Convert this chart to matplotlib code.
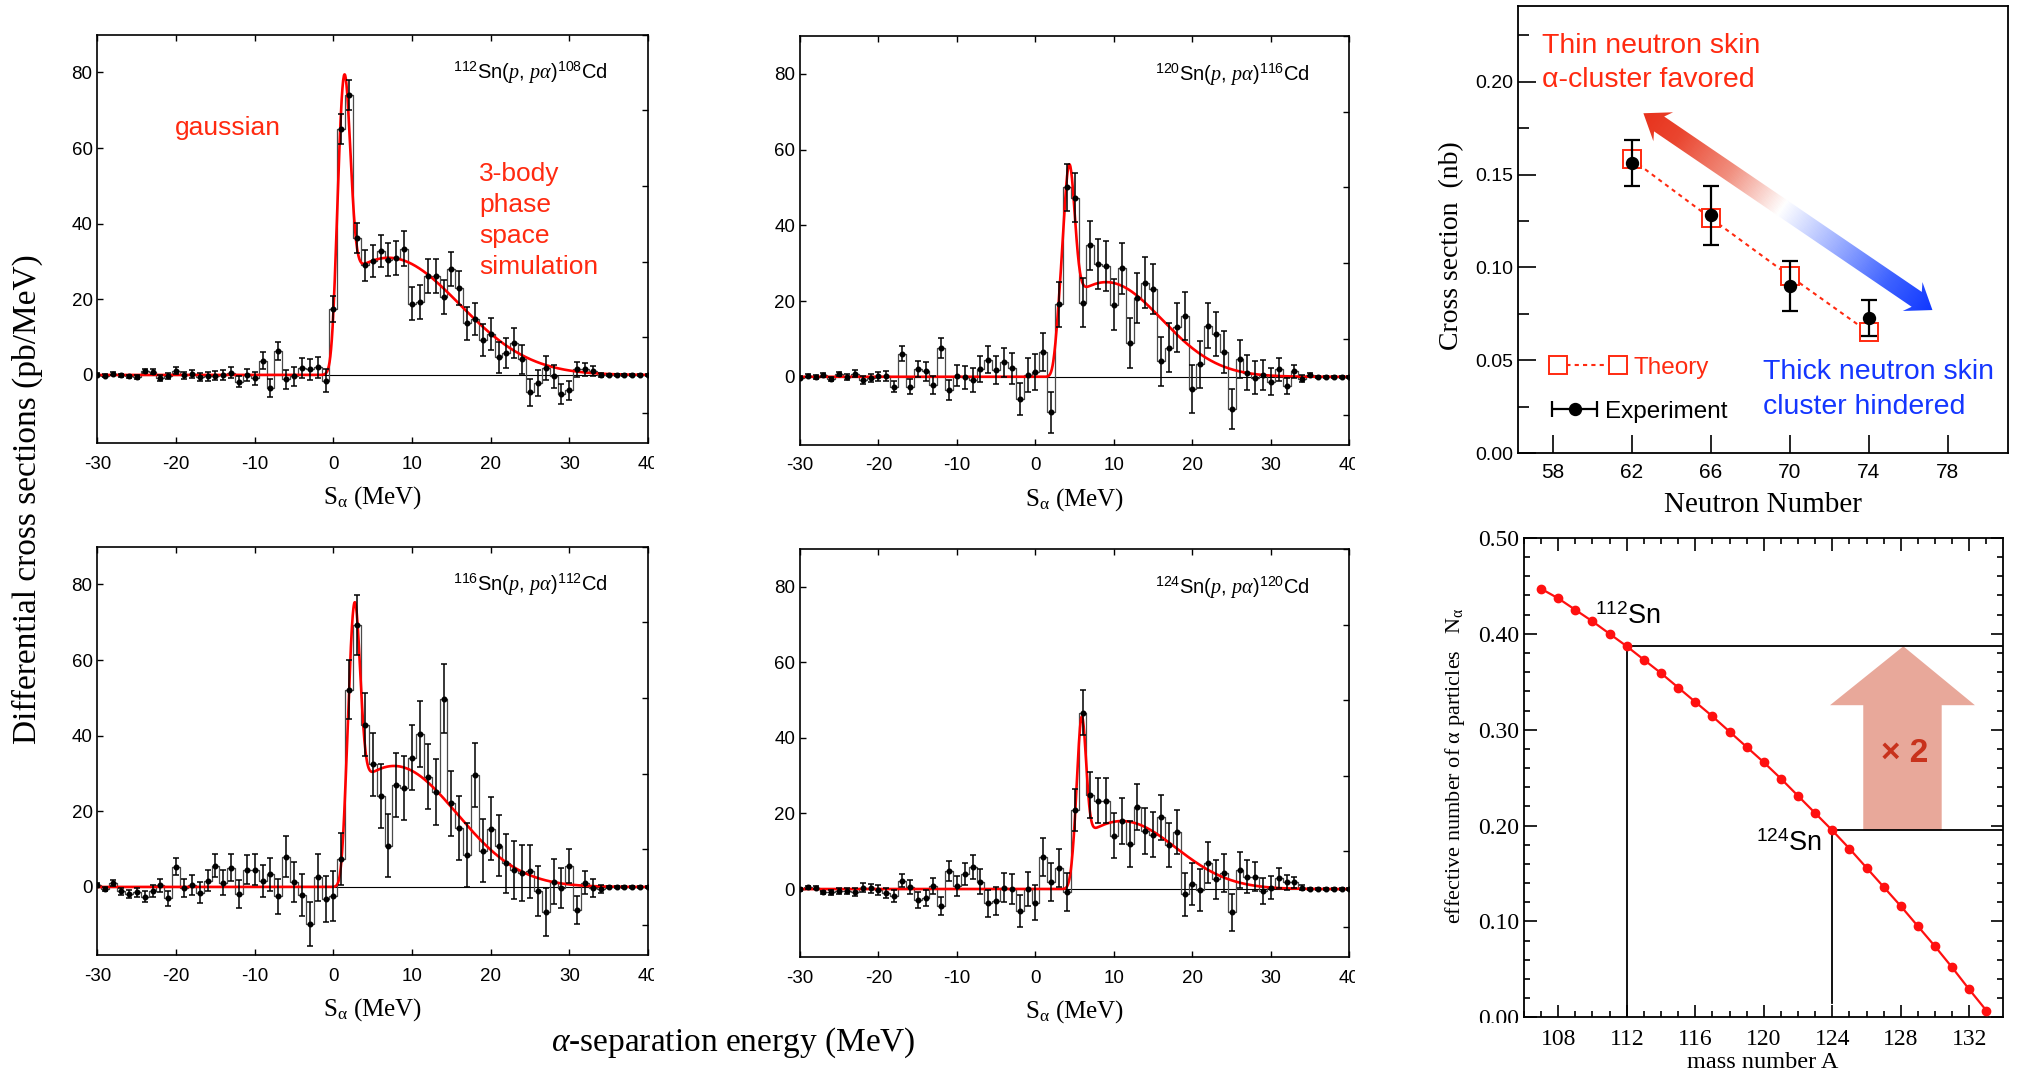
import math
import numpy as np
import matplotlib
matplotlib.use("Agg")
import matplotlib.pyplot as plt
from matplotlib.patches import Polygon
from matplotlib.colors import LinearSegmentedColormap
from matplotlib.ticker import MultipleLocator, FormatStrFormatter
from matplotlib.transforms import Bbox, TransformedBbox

plt.rcParams['font.family'] = ['Liberation Sans', 'DejaVu Sans']
plt.rcParams['mathtext.fontset'] = 'custom'
plt.rcParams['mathtext.rm'] = 'Liberation Sans'
plt.rcParams['mathtext.it'] = 'Liberation Serif:italic'
plt.rcParams['mathtext.bf'] = 'Liberation Sans:bold'
plt.rcParams['axes.unicode_minus'] = False

SERIF = ['Liberation Serif', 'DejaVu Serif']
RED_TXT = '#ff2a10'
BLUE_TXT = '#1436ff'

# ---------------- spectra: S_alpha bins (MeV) ----------------
s_alpha = list(range(-30, 41))

yield_112 = [0, -0.2, 0.3, -0.1, -0.4, -0.6, 1.0, 0.9, -0.7, -0.3,
             1.1, -0.1, 0.2, -0.6, -0.4, -0.2, -0.1, 0.6, -1.8, 0,
             -0.9, 3.8, -3.4, 6.3, -1.1, -0.4, 1.8, 1.5, 2.0, -1.5,
             17.5, 65.1, 74.0, 36.2, 29.0, 30.2, 32.8, 30.5, 30.9, 33.4,
             18.9, 19.2, 26.2, 26.2, 20.5, 27.9, 23.0, 13.7, 14.8, 9.3,
             10.8, 4.7, 5.9, 8.5, 4.1, -4.6, -2.2, 1.9, -0.4, -5.0,
             -4.1, 1.5, 1.5, 1.1, 0, 0, 0, 0, 0, 0,
             0]
err_112 = [0.4, 0.4, 0.4, 0.4, 0.5, 0.5, 0.6, 0.6, 0.8, 0.8,
           0.9, 1.0, 1.0, 1.1, 1.2, 1.2, 1.3, 1.4, 1.5, 1.6,
           1.8, 2.2, 2.3, 2.4, 2.5, 2.5, 2.6, 2.7, 2.8, 3.0,
           3.5, 4.0, 4.0, 4.0, 4.1, 4.2, 4.3, 4.4, 4.5, 4.6,
           4.4, 4.5, 4.6, 4.6, 4.5, 4.5, 4.5, 4.4, 4.3, 4.2,
           4.2, 4.1, 4.0, 3.9, 3.8, 3.6, 3.4, 3.2, 3.0, 2.7,
           2.5, 2.0, 1.7, 1.4, 0.5, 0.2, 0.2, 0.2, 0.2, 0.2,
           0.2]

yield_120 = [-0.2, 0.3, -0.1, 0.4, -0.6, 0.7, 0, 0.8, -0.8, -0.3,
             0.1, 0.2, -2.6, 6.1, -2.6, 2.1, 1.4, -2.1, 7.6, -3.5,
             0.3, -0.1, -0.9, 2.0, 4.5, 1.7, 3.8, 2.2, -5.9, 0.5,
             1.2, 6.5, -9.4, 19.1, 50.1, 47.3, 19.6, 34.7, 29.8, 29.2,
             19.0, 28.6, 8.9, 20.8, 24.9, 23.3, 4.1, 7.7, 13.1, 16.0,
             -3.2, 3.3, 13.5, 11.4, 6.6, -8.5, 4.8, 1.1, -0.2, 0.4,
             -1.3, 2.0, -2.4, 1.4, -0.5, 0.6, 0, 0, 0, 0,
             0]
err_120 = [0.4, 0.4, 0.5, 0.5, 0.6, 0.6, 0.8, 0.9, 1.0, 1.1,
           1.2, 1.4, 1.5, 2.0, 2.0, 2.2, 2.4, 2.4, 2.7, 2.7,
           2.8, 3.0, 3.2, 3.4, 3.6, 3.7, 3.8, 4.0, 4.2, 4.5,
           4.8, 5.0, 5.4, 5.9, 6.2, 6.5, 6.5, 6.5, 6.6, 6.6,
           6.7, 6.7, 6.7, 6.7, 6.7, 6.6, 6.5, 6.5, 6.5, 6.4,
           6.3, 6.2, 6.0, 5.8, 5.6, 5.3, 5.0, 4.6, 4.3, 4.0,
           3.6, 3.0, 2.2, 1.7, 1.0, 0.4, 0.2, 0.2, 0.2, 0.2,
           0.2]

yield_116 = [0.5, -0.5, 1.1, -1.2, -1.9, -1.4, -2.6, -1.0, 0.4, -3.0,
             5.4, -0.3, 0.6, -1.5, 1.7, 5.6, 1.1, 5.1, -1.9, 4.6,
             4.6, 1.6, 3.3, -2.5, 8.0, 1.3, -2.1, -9.8, 2.6, -3.2,
             -2.4, 7.4, 52.2, 69.3, 42.9, 32.4, 24.1, 10.9, 27.0, 26.2,
             34.2, 40.4, 29.2, 25.2, 49.8, 22.1, 15.5, 8.5, 29.6, 9.6,
             15.4, 10.9, 6.3, 4.5, 3.8, 4.1, -1.1, -6.7, 1.4, -0.3,
             5.5, -6.1, 1.1, -0.2, -0.5, 0, 0, 0, 0, 0,
             0]
err_116 = [0.5, 0.6, 0.8, 1.0, 1.1, 1.2, 1.4, 1.6, 1.8, 2.0,
           2.3, 2.4, 2.6, 2.8, 2.9, 3.0, 3.3, 3.5, 3.7, 3.8,
           4.0, 4.2, 4.4, 4.6, 5.4, 5.4, 5.6, 5.8, 6.2, 6.2,
           6.6, 7.0, 7.7, 8.0, 8.3, 8.3, 8.4, 8.4, 8.5, 8.5,
           8.6, 8.7, 8.6, 8.7, 9.2, 8.6, 8.5, 8.5, 8.5, 8.4,
           8.4, 8.1, 7.8, 7.6, 7.4, 7.0, 6.7, 6.3, 5.9, 5.3,
           4.5, 3.7, 3.0, 2.4, 1.0, 0.3, 0.3, 0.3, 0.3, 0.3,
           0.3]

yield_124 = [0, 0.5, 0.4, -0.9, -0.9, -0.5, -0.5, -0.8, 0.4, 0.2,
             -0.3, -1.0, -1.8, 2.2, 0.6, -2.9, -2.4, 0.8, -4.4, 4.8,
             0.8, 3.9, 5.9, 1.9, -3.8, -3.1, 0.4, 0, -5.8, 0,
             -3.6, 8.4, 1.9, 5.5, -0.7, 21.0, 46.7, 24.9, 23.4, 23.4,
             14.1, 18.0, 12.0, 21.8, 15.4, 14.4, 19.0, 11.6, 15.1, -1.4,
             1.4, -0.2, 7.0, 2.6, 4.3, -6.2, 5.0, 3.3, 3.3, -0.5,
             0.4, 3.0, 1.8, 1.8, 0.4, 0, 0, 0, 0, 0,
             0]
err_124 = [0.4, 0.4, 0.4, 0.5, 0.6, 0.7, 0.8, 1.0, 1.1, 1.2,
           1.3, 1.4, 1.5, 1.7, 1.9, 2.0, 2.1, 2.2, 2.4, 2.6,
           2.7, 2.9, 3.2, 3.3, 3.5, 3.7, 3.9, 4.0, 4.3, 4.5,
           4.7, 5.0, 5.0, 5.0, 5.0, 5.6, 6.0, 6.0, 6.0, 6.0,
           6.0, 6.0, 6.1, 6.1, 6.1, 6.0, 6.0, 5.8, 5.8, 5.7,
           5.6, 5.5, 5.5, 5.2, 5.0, 4.8, 4.8, 4.3, 3.9, 3.4,
           3.1, 2.6, 2.0, 1.5, 0.6, 0.2, 0.2, 0.2, 0.2, 0.2,
           0.2]

# fitted curve: gaussian (pos, amp, sigma) + 3-body phase space hump (pos, amp, sigma, threshold)
fit_112 = (1.4, 54, 0.75, 7.0, 31, 9.0, 0.2)
fit_120 = (4.3, 36, 0.70, 9.0, 25, 7.1, 2.6)
fit_116 = (2.7, 49, 0.70, 7.7, 32, 8.0, 1.4)
fit_124 = (5.9, 32, 0.55, 11.0, 18, 6.9, 4.7)

reactions = [r'$^{112}$Sn($p$, $p\alpha$)$^{108}$Cd',
             r'$^{120}$Sn($p$, $p\alpha$)$^{116}$Cd',
             r'$^{116}$Sn($p$, $p\alpha$)$^{112}$Cd',
             r'$^{124}$Sn($p$, $p\alpha$)$^{120}$Cd']

# ---------------- cross section vs neutron number ----------------
neutron_number = [62, 66, 70, 74]
theory_xs = [0.1582, 0.1265, 0.0954, 0.0651]
exp_xs = [0.1561, 0.1282, 0.0900, 0.0730]
exp_err = [0.0124, 0.0159, 0.0134, 0.0096]

# ---------------- effective number of alphas vs A ----------------
mass_A = list(range(107, 134))
n_alpha = [0.447, 0.437, 0.425, 0.413, 0.400, 0.387, 0.373, 0.359, 0.344,
           0.329, 0.314, 0.298, 0.282, 0.266, 0.249, 0.231, 0.213, 0.195,
           0.176, 0.156, 0.136, 0.116, 0.095, 0.074, 0.052, 0.029, 0.007]

W, H = 2018, 1074
fig = plt.figure(figsize=(W / 100, H / 100), dpi=100)

erf = np.vectorize(math.erf)


def fit_curve(x, p0, pa, ps, h0, ha, hs, thr):
    peak = pa * np.exp(-(x - p0) ** 2 / (2 * ps ** 2))
    hump = ha * np.exp(-(x - h0) ** 2 / (2 * hs ** 2)) * 0.5 * (1 + erf((x - thr) / 0.6))
    return peak + hump


def spectrum(rect, y, err, fit, label):
    ax = fig.add_axes(rect)
    x = np.array(s_alpha)
    ax.axhline(0, color='black', lw=0.8, zorder=1)
    ax.step(x, y, where='mid', color='#4a4a4a', lw=0.9, zorder=2)
    xf = np.linspace(-30, 40, 1500)
    ax.plot(xf, fit_curve(xf, *fit), color='red', lw=1.9, zorder=3)
    ax.errorbar(x, y, yerr=err, fmt='o', ms=3.3, color='black', elinewidth=1.1,
                capsize=2, capthick=1.1, zorder=4)
    ax.set_xlim(-30, 40)
    ax.set_ylim(-18, 90)
    ax.set_xticks(range(-30, 41, 10))
    ax.set_yticks(range(0, 81, 20))
    ax.yaxis.set_minor_locator(MultipleLocator(10))
    ax.tick_params(which='major', direction='in', top=True, right=False, length=4,
                   width=1, labelsize=13.5)
    ax.tick_params(axis='x', pad=9)
    ax.tick_params(axis='y', pad=3.5)
    ax.tick_params(which='minor', direction='in', left=False, right=True, length=4, width=1)
    for s in ax.spines.values():
        s.set_linewidth(1.2)
    ax.text(34.9, 79.8, label, ha='right', va='center', fontsize=14.5)
    ax.text(0.5, -0.134, r'$\mathregular{S_{\alpha}}$ (MeV)', transform=ax.transAxes,
            ha='center', va='center', fontsize=18, family=SERIF)
    # the source image cuts the last tick label ("40") at its right edge
    right_px = (rect[0] + rect[2]) * W + 6
    lab = ax.get_xticklabels()[-1]
    lab.set_clip_on(True)
    lab.set_clip_box(TransformedBbox(Bbox([[0, 0], [right_px / W, 1]]), fig.transFigure))
    return ax


ax1 = spectrum([0.0483, 0.5875, 0.2728, 0.3802], yield_112, err_112, fit_112, reactions[0])
ax2 = spectrum([0.3964, 0.5857, 0.2723, 0.3808], yield_120, err_120, fit_120, reactions[1])
ax3 = spectrum([0.0483, 0.1108, 0.2728, 0.3802], yield_116, err_116, fit_116, reactions[2])
ax4 = spectrum([0.3964, 0.1089, 0.2723, 0.3799], yield_124, err_124, fit_124, reactions[3])

ax1.text(-20.2, 65.2, 'gaussian', color=RED_TXT, fontsize=19, va='center')
ax1.text(18.56, 56.3, '3-body\nphase\nspace\nsimulation', color=RED_TXT, fontsize=19,
         va='top', linespacing=1.36)

fig.text(27 / W, 1 - 499 / H, 'Differential cross sections (pb/MeV)', rotation=90,
         ha='center', va='center', fontsize=24, family=SERIF)
fig.text(733.6 / W, 1 - 1043 / H, r'$\alpha$-separation energy (MeV)',
         ha='center', va='center', fontsize=24, family=SERIF)

# ---------------- right top: cross section ----------------
ax5 = fig.add_axes([0.7524, 0.5779, 0.2424, 0.4165])
ax5.set_xlim(56.26, 81.02)
ax5.set_ylim(0, 0.2407)
ax5.set_autoscale_on(False)
TH_RED = '#ff2a10'
ax5.plot(neutron_number, theory_xs, color=TH_RED, ls=(0, (2, 2)), lw=1.5, zorder=2)
ax5.plot(neutron_number, theory_xs, ls='none', marker='s', ms=12.5, mfc='white',
         mec=TH_RED, mew=1.4, zorder=3)
ax5.errorbar(neutron_number, exp_xs, yerr=exp_err, fmt='o', ms=8.6, color='black',
             elinewidth=1.6, capsize=5.5, capthick=1.6, zorder=4)

# hand-made legend
ax5.plot([58.28, 61.32], [0.0475, 0.0475], color=TH_RED, ls=(0, (2, 2)), lw=1.5)
ax5.plot([58.28, 61.32], [0.0475, 0.0475], ls='none', marker='s', ms=12.5, mfc='white',
         mec=TH_RED, mew=1.4)
ax5.text(62.08, 0.0459, 'Theory', color=TH_RED, fontsize=17.5, va='center')
ax5.errorbar([59.13], [0.0237], xerr=[[1.15], [1.09]], fmt='o', ms=8.6, color='black',
             elinewidth=1.6, capsize=6, capthick=1.6)
ax5.text(60.65, 0.0221, 'Experiment', fontsize=17.5, va='center')

ax5.text(57.44, 0.2190, 'Thin neutron skin', color=RED_TXT, fontsize=20.5, va='center')
ax5.text(57.44, 0.2007, 'α-cluster favored', color=RED_TXT, fontsize=20.5, va='center')
ax5.text(68.66, 0.0436, 'Thick neutron skin', color=BLUE_TXT, fontsize=20.5, va='center')
ax5.text(68.66, 0.0249, 'cluster hindered', color=BLUE_TXT, fontsize=20.5, va='center')


def gradient_arrow(ax, p0, p1, shaft, head_w, head_l, overhang, cmap):
    T = ax.transData
    a = T.transform(p0)
    b = T.transform(p1)
    d = b - a
    L = np.hypot(*d)
    u = d / L
    n = np.array([-u[1], u[0]])
    j = head_l - overhang
    pts = np.array([a, a + head_l * u + head_w * n, a + j * u + shaft * n,
                    b - j * u + shaft * n, b - head_l * u + head_w * n, b,
                    b - head_l * u - head_w * n, b - j * u - shaft * n,
                    a + j * u - shaft * n, a + head_l * u - head_w * n])
    patch = Polygon(T.inverted().transform(pts), closed=True, fc='none', ec='none')
    ax.add_patch(patch)
    x0, y0 = pts.min(0)
    x1, y1 = pts.max(0)
    gx, gy = np.meshgrid(np.linspace(x0, x1, int(x1 - x0) + 1),
                         np.linspace(y0, y1, int(y1 - y0) + 1))
    t = ((gx - a[0]) * u[0] + (gy - a[1]) * u[1]) / L
    (dx0, dy0), (dx1, dy1) = T.inverted().transform([[x0, y0], [x1, y1]])
    im = ax.imshow(cmap(np.clip(t, 0, 1)), extent=(dx0, dx1, dy0, dy1), origin='lower',
                   aspect='auto', zorder=1, interpolation='bilinear')
    im.set_clip_path(patch)


skin_cmap = LinearSegmentedColormap.from_list(
    'skin', [(0, '#e8321c'), (0.12, '#ea4630'), (0.3, '#f19080'), (0.48, '#ffffff'),
             (0.65, '#a8b8ff'), (0.85, '#3e62ff'), (1, '#1038ff')])
gradient_arrow(ax5, (62.59, 0.183), (77.22, 0.0771), 9, 17.5, 24, 5, skin_cmap)

ax5.set_xticks(range(58, 79, 4))
ax5.set_yticks([0, 0.05, 0.10, 0.15, 0.20])
ax5.yaxis.set_major_formatter(FormatStrFormatter('%.2f'))
ax5.yaxis.set_minor_locator(MultipleLocator(0.025))
ax5.tick_params(which='major', direction='in', length=13, width=1.2)
ax5.tick_params(axis='y', which='minor', direction='in', length=8, width=1.2)
ax5.tick_params(axis='y', labelsize=14, pad=3.6)
ax5.tick_params(axis='x', labelsize=15, pad=7)
for s in ax5.spines.values():
    s.set_linewidth(1.3)
ax5.text(-0.137, 0.465, 'Cross section  (nb)', transform=ax5.transAxes, rotation=90,
         ha='center', va='center', fontsize=20, family=SERIF)
ax5.text(0.501, -0.1156, 'Neutron Number', transform=ax5.transAxes,
         ha='center', va='center', fontsize=21, family=SERIF)

# ---------------- right bottom: effective number of alphas ----------------
ax6 = fig.add_axes([0.7552, 0.0528, 0.2372, 0.4463])
ax6.set_xlim(106, 133.95)
ax6.set_ylim(0, 0.5)
i112 = mass_A.index(112)
i124 = mass_A.index(124)
y112, y124 = n_alpha[i112], n_alpha[i124]
ax6.plot([112, 112, 133.95], [0, y112, y112], color='black', lw=1.3, zorder=3)
ax6.plot([124, 124, 133.95], [0.015, y124, y124], color='black', lw=1.3, zorder=3)
head_base = y124 + 0.68 * (y112 - y124)
ax6.add_patch(Polygon([(125.81, y124), (130.39, y124), (130.39, head_base), (132.33, head_base),
                       (128.15, y112), (123.87, head_base), (125.81, head_base)],
                      closed=True, fc='#e8a89a', ec='none', zorder=2))
ax6.text(128.25, 0.275, '× 2', color='#c8321c', fontsize=24, fontweight='bold',
         ha='center', va='center', zorder=5)
ax6.plot(mass_A, n_alpha, color='#ff1010', lw=1.6, marker='o', ms=6, zorder=4)
ax6.text(110.14, 0.418, r'$^{112}$Sn', fontsize=19.5, va='center')
ax6.text(119.55, 0.1806, r'$^{124}$Sn', fontsize=19.5, va='center')

ax6.set_xticks(range(108, 133, 4))
ax6.set_yticks([0, 0.1, 0.2, 0.3, 0.4, 0.5])
ax6.yaxis.set_major_formatter(FormatStrFormatter('%.2f'))
ax6.xaxis.set_minor_locator(MultipleLocator(1))
ax6.yaxis.set_minor_locator(MultipleLocator(0.02))
ax6.tick_params(which='both', direction='in', top=True, right=True, width=1.2,
                labelfontfamily='Liberation Serif', labelsize=17)
ax6.tick_params(which='major', length=9)
ax6.tick_params(which='minor', length=4.5)
ax6.tick_params(axis='y', pad=3.4)
ax6.tick_params(axis='x', pad=8.5)
for s in ax6.spines.values():
    s.set_linewidth(1.3)
# the source image cuts the "0.00" label at the bottom
lab0 = ax6.get_yticklabels()[0]
lab0.set_clip_on(True)
lab0.set_clip_box(TransformedBbox(Bbox([[0, (H - 1022.7) / H], [1, 1]]), fig.transFigure))
ax6.text(-0.144, 0.524, r'effective number of α particles   $\mathregular{N_{\alpha}}$',
         transform=ax6.transAxes, rotation=90, ha='center', va='center',
         fontsize=16, family=SERIF)
ax6.text(0.499, -0.0953, 'mass number A', transform=ax6.transAxes,
         ha='center', va='center', fontsize=17.5, family=SERIF)

fig.savefig('out.png', dpi=100)
